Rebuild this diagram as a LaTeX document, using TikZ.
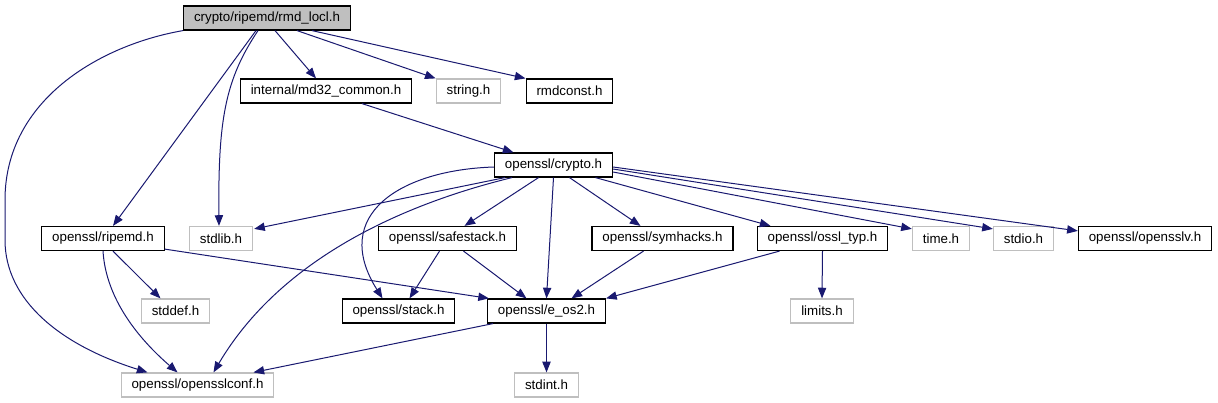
\documentclass[tikz,border=0pt]{standalone}
\usepackage{fontspec}
\setmainfont{Liberation Sans}
\usetikzlibrary{calc,arrows.meta}
\definecolor{edgeblue}{HTML}{191970}
\definecolor{boxgray}{HTML}{BFBFBF}
\tikzset{
  hdr/.style={draw=black,line width=0.9pt,inner xsep=7.8pt,inner ysep=0pt,
    minimum height=18pt,font=\fontsize{10}{12}\selectfont},
  sys/.style={hdr,draw=boxgray},
  rootbox/.style={hdr,fill=boxgray},
  link/.style={draw=edgeblue,line width=0.75pt}
}
\begin{document}
\begin{tikzpicture}[x=0.75pt,y=-0.75pt,>={Triangle[length=8pt,width=6.2pt]},
    every edge/.style={link}]
  \useasboundingbox (0,0) rectangle (1218,403);
  \node[rootbox] (H0) at (267,18) {crypto/ripemd/rmd\_locl.h};
  \node[hdr] (H1) at (326,91) {internal/md32\_common.h};
  \node[sys] (H2) at (468.5,91) {string.h};
  \node[hdr] (H3) at (569.5,91) {rmdconst.h};
  \node[hdr] (H4) at (553.5,165) {openssl/crypto.h};
  \node[hdr] (H5) at (103,238.5) {openssl/ripemd.h};
  \node[sys] (H6) at (221,238.5) {stdlib.h};
  \node[hdr] (H7) at (447.5,238.5) {openssl/safestack.h};
  \node[hdr] (H8) at (662.5,238.5) {openssl/symhacks.h};
  \node[hdr] (H9) at (822.5,238.5) {openssl/ossl\_typ.h};
  \node[sys] (H10) at (941,238.5) {time.h};
  \node[sys] (H11) at (1023.5,238.5) {stdio.h};
  \node[hdr] (H12) at (1145,238.5) {openssl/opensslv.h};
  \node[sys] (H13) at (175.5,311) {stddef.h};
  \node[hdr] (H14) at (398.5,311) {openssl/stack.h};
  \node[hdr] (H15) at (546.5,311) {openssl/e\_os2.h};
  \node[sys] (H16) at (822,311) {limits.h};
  \node[sys] (H17) at (197.5,385) {openssl/opensslconf.h};
  \node[sys] (H18) at (546.5,385) {stdint.h};
  % rmd_locl.h
  \path[->] ($(H0.south)+(8,0)$) edge ($(H1.north)+(-10,0)$);
  \path[->] ($(H0.south)+(30,0)$) edge (H2.north west);
  \path[->] ($(H0.south)+(45,0)$) edge (H3.north west);
  \path[->] ($(H0.south)+(-11,0)$) edge ($(H5.north)+(10,0)$);
  \draw[link,->] ($(H0.south)+(-9,0)$) .. controls (225,80) and (218,120) .. ($(H6.north)+(-2,0)$);
  \draw[link,->] (H0.south west) .. controls (100,45) and (5,100) .. (5,200) -- (5,240)
    .. controls (5,300) and (60,345) .. ($(H17.north west)+(27,0)$);
  \path[->] ($(H1.south)+(36,0)$) edge ($(H4.north)+(-40,0)$);
  % crypto.h
  \path[->] ($(H4.south west)+(11,0)$) edge ($(H6.north east)+(1,3)$);
  \draw[link,->] ($(H4.south west)+(18,0)$) .. controls (400,205) and (280,260) .. ($(H17.north)+(16,0)$);
  \draw[link,->] ($(H4.west)+(0,2)$) .. controls (400,170) and (330,215) .. ($(H14.north)+(-16,0)$);
  \path[->] ($(H4.south)+(-15,0)$) edge ($(H7.north)+(17,0)$);
  \path[->] (H4.south) edge (H15.north);
  \path[->] ($(H4.south)+(16,0)$) edge ($(H8.north)+(-22,0)$);
  \path[->] ($(H4.south)+(42,0)$) edge ($(H9.north)+(-52,0)$);
  \path[->] ($(H4.east)+(0,7)$) edge ($(H10.north west)+(0,3)$);
  \path[->] ($(H4.east)+(0,4)$) edge ($(H11.north west)+(0,3)$);
  \path[->] ($(H4.east)+(0,2)$) edge ($(H12.north west)+(0,5)$);
  % second row
  \path[->] ($(H5.south)+(10,0)$) edge ($(H13.north)+(-15,0)$);
  \draw[link,->] (H5.south) .. controls (106,300) and (140,340) .. ($(H17.north)+(-20,0)$);
  \path[->] ($(H5.south east)+(0,-2)$) edge ($(H15.north west)+(2,0)$);
  \path[->] ($(H7.south)+(-8,0)$) edge ($(H14.north)+(11,0)$);
  \path[->] ($(H7.south)+(16,0)$) edge ($(H15.north)+(-20,0)$);
  \path[->] ($(H8.south)+(-19,0)$) edge ($(H15.north)+(25,0)$);
  \path[->] ($(H9.south)+(-43,0)$) edge (H15.north east);
  \path[->] (H9.south) edge (H16.north);
  % e_os2.h
  \path[->] ($(H15.south west)+(6,0)$) edge ($(H17.north east)+(-21,0)$);
  \path[->] (H15.south) edge (H18.north);
\end{tikzpicture}
\end{document}
